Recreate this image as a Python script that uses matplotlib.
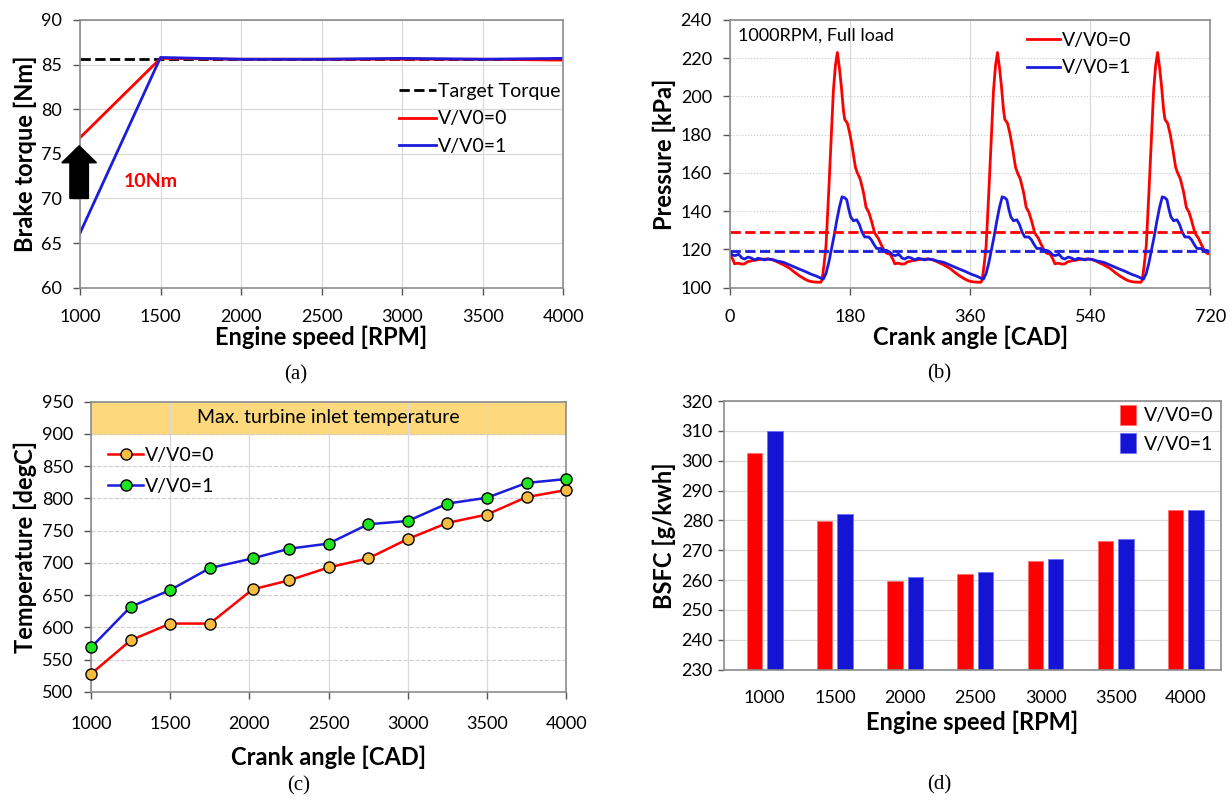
import matplotlib
matplotlib.use("Agg")
import matplotlib.pyplot as plt
from matplotlib.patches import FancyArrow

plt.rcParams['font.family'] = ['Lato', 'DejaVu Sans']

# ---- (a) brake torque ----
speed_a = [1000, 1500, 2000, 2500, 3000, 3500, 4000]
target_torque = [85.6, 85.6, 85.6, 85.6, 85.6, 85.6, 85.6]
torque_v0 = [76.8, 85.7, 85.6, 85.6, 85.6, 85.6, 85.5]
torque_v1 = [66.1, 85.8, 85.6, 85.6, 85.7, 85.6, 85.7]

# ---- (b) exhaust pressure, one 240 CAD firing cycle (repeats 3 times) ----
cad_cycle_v0 = [0, 4, 7, 12, 18, 22, 26, 32, 37, 45, 57, 65, 72, 80, 90, 97, 105,
                112, 118, 125, 136, 138, 141, 144, 148, 152, 155, 158, 161, 164,
                167, 170, 172, 176, 180, 184, 188, 191, 195, 200, 204, 208, 212,
                217, 222, 226, 231, 235]
p_cycle_v0 = [117.5, 115, 112.5, 112.8, 112.3, 112.5, 113.5, 114, 114.3, 114.8,
              115, 114.5, 113.3, 112, 110, 108, 106, 104.5, 103.5, 103, 102.8,
              104, 112, 122, 150, 180, 203, 216, 223, 215, 205, 193, 188, 186,
              180, 172, 163, 160, 157, 150, 142, 139.5, 135, 128.5, 126, 123,
              119.5, 118]
cad_cycle_v1 = [0, 4, 8, 13, 18, 22, 27, 32, 37, 42, 47, 52, 57, 62, 70, 80, 92,
                102, 112, 122, 130, 136, 140, 144, 148, 152, 156, 160, 164, 168,
                172, 175, 178, 181, 185, 190, 194, 198, 202, 208, 212, 216, 220,
                226, 230, 235]
p_cycle_v1 = [118.5, 117, 116.8, 117.5, 115.5, 115, 116, 115.5, 114.5, 115.4,
              115, 114.5, 115, 114.8, 114, 113.3, 111.5, 110, 108.6, 107, 106,
              105, 104.5, 107.5, 113, 120, 127, 135, 142, 147.5, 147, 146, 141,
              137, 135, 135.5, 133, 129, 126.5, 126.5, 125, 122.5, 120.5, 120.5,
              119.5, 119.5]
mean_p_v0 = 129
mean_p_v1 = 119

cad_v0 = [c + 240 * k for k in range(3) for c in cad_cycle_v0] + [720]
pres_v0 = p_cycle_v0 * 3 + [117.5]
cad_v1 = [c + 240 * k for k in range(3) for c in cad_cycle_v1] + [720]
pres_v1 = p_cycle_v1 * 3 + [118.5]

# ---- (c) turbine inlet temperature ----
speed_c = [1000, 1250, 1500, 1750, 2020, 2250, 2500, 2750, 3000, 3250, 3500, 3750, 4000]
temp_v0 = [528, 580, 606, 606, 659, 673, 693, 707, 737, 762, 775, 802, 813]
temp_v1 = [569, 632, 658, 692, 707, 722, 730, 760, 765, 792, 801, 824, 830]

# ---- (d) BSFC ----
speed_d = ['1000', '1500', '2000', '2500', '3000', '3500', '4000']
bsfc_v0 = [302.6, 279.7, 259.7, 261.9, 266.4, 273.2, 283.5]
bsfc_v1 = [310.1, 282.1, 261.1, 262.6, 266.9, 273.8, 283.3]

RED = '#ff0000'
BLUE = '#1c1cdc'
GRID = '#d9d9d9'
SPINE = '#8c8c8c'
LABEL = dict(fontsize=17, fontweight='bold')


def style(ax):
    for s in ax.spines.values():
        s.set_color(SPINE)
        s.set_linewidth(1.2)
    ax.tick_params(labelsize=13, color='#555555', length=5, width=1)
    ax.tick_params(axis='y', pad=8)
    ax.set_axisbelow(True)


fig = plt.figure(figsize=(12.32, 8.02), dpi=100)

# (a)
ax = fig.add_axes([0.0649, 0.6413, 0.3923, 0.3338])
style(ax)
ax.tick_params(axis='x', pad=10)
ax.plot(speed_a, target_torque, '--', color='black', lw=2, label='Target Torque')
ax.plot(speed_a, torque_v0, color=RED, lw=2, label='V/V0=0')
ax.plot(speed_a, torque_v1, color=BLUE, lw=2, label='V/V0=1')
ax.set_xlim(1000, 4000)
ax.set_ylim(60, 90)
ax.set_xticks(speed_a)
ax.set_yticks(range(60, 91, 5))
ax.grid(True, color=GRID, lw=0.9)
ax.add_patch(FancyArrow(995, 70, 0, 5.9, width=115, head_width=215, head_length=1.9,
                        length_includes_head=True, color='black', clip_on=False, zorder=5))
ax.text(1440, 71.9, '10Nm', color=RED, fontsize=14, fontweight='bold', ha='center', va='center')
ax.legend(loc='upper right', bbox_to_anchor=(1.01, 0.795), frameon=False, fontsize=14,
          handlelength=1.9, handletextpad=0.1, labelspacing=0.55, borderaxespad=0)
ax.set_xlabel('Engine speed [RPM]', labelpad=1, **LABEL)
ax.set_ylabel('Brake torque [Nm]', labelpad=3, **LABEL)
fig.text(296 / 1232, 1 - 375 / 802, '(a)', family='Liberation Serif', fontsize=15,
         ha='center', va='center')

# (b)
ax = fig.add_axes([0.5925, 0.6413, 0.3899, 0.3338])
style(ax)
ax.tick_params(axis='x', pad=10)
ax.plot(cad_v0, pres_v0, color=RED, lw=2, label='V/V0=0')
ax.plot(cad_v1, pres_v1, color=BLUE, lw=2, label='V/V0=1')
ax.axhline(mean_p_v0, color=RED, ls='--', lw=2)
ax.axhline(mean_p_v1, color=BLUE, ls='--', lw=2)
ax.set_xlim(0, 720)
ax.set_ylim(100, 240)
ax.set_xticks([0, 180, 360, 540, 720])
ax.set_yticks(range(100, 241, 20))
ax.grid(True, axis='x', color=GRID, lw=0.9)
ax.grid(True, axis='y', color='#c8c8c8', lw=0.8, ls=':')
ax.text(0.016, 0.94, '1000RPM, Full load', transform=ax.transAxes, fontsize=13,
        ha='left', va='center')
ax.legend(loc='upper right', bbox_to_anchor=(0.86, 1.0), frameon=False, fontsize=14,
          handlelength=1.7, handletextpad=0.1, labelspacing=0.55, borderaxespad=0.2)
ax.set_xlabel('Crank angle [CAD]', labelpad=1, **LABEL)
ax.set_ylabel('Pressure [kPa]', labelpad=3, **LABEL)
fig.text(939 / 1232, 1 - 374 / 802, '(b)', family='Liberation Serif', fontsize=15,
         ha='center', va='center')

# (c)
ax = fig.add_axes([0.0739, 0.1372, 0.3856, 0.3620])
style(ax)
ax.tick_params(axis='x', pad=12)
ax.axhspan(900, 950, color='#fdd97c', zorder=0)
ax.text(2500, 925, 'Max. turbine inlet temperature', fontsize=14, ha='center', va='center')
ax.plot(speed_c, temp_v0, '-o', color=RED, lw=1.8, ms=8, mfc='#fbbd3f', mec='black',
        mew=1, label='V/V0=0', clip_on=False, zorder=4)
ax.plot(speed_c, temp_v1, '-o', color=BLUE, lw=1.8, ms=8, mfc='#1ee61e', mec='black',
        mew=1, label='V/V0=1', clip_on=False, zorder=4)
ax.set_xlim(1000, 4000)
ax.set_ylim(500, 950)
ax.set_xticks(range(1000, 4001, 500))
ax.set_yticks(range(500, 951, 50))
ax.grid(True, axis='x', color=GRID, lw=0.9)
ax.grid(True, axis='y', color='#cfcfcf', lw=0.8, ls='--')
ax.legend(loc='upper left', bbox_to_anchor=(0.02, 0.87), frameon=False, fontsize=14,
          handlelength=1.8, handletextpad=0.1, labelspacing=0.7, borderaxespad=0)
ax.set_xlabel('Crank angle [CAD]', labelpad=10, **LABEL)
ax.set_ylabel('Temperature [degC]', labelpad=3, **LABEL)
fig.text(299 / 1232, 1 - 786 / 802, '(c)', family='Liberation Serif', fontsize=15,
         ha='center', va='center')

# (d)
ax = fig.add_axes([0.5877, 0.1652, 0.4034, 0.3348])
style(ax)
pos = range(len(speed_d))
ax.bar([p - 0.145 for p in pos], bsfc_v0, width=0.22, color=RED, edgecolor='#ff7070',
       lw=0.6, label='V/V0=0')
ax.bar([p + 0.145 for p in pos], bsfc_v1, width=0.22, color='#1414d4', edgecolor='#7070ff',
       lw=0.6, label='V/V0=1')
ax.set_xlim(-0.58, 6.5)
ax.set_ylim(230, 320)
ax.set_xticks(list(pos))
ax.set_xticklabels(speed_d)
ax.set_yticks(range(230, 321, 10))
ax.tick_params(axis='x', length=0, pad=15)
ax.tick_params(axis='y', length=4, pad=4)
ax.grid(True, axis='y', color=GRID, lw=0.9)
ax.legend(loc='upper right', bbox_to_anchor=(1.0, 1.015), frameon=False, fontsize=14,
          handlelength=0.8, handleheight=1.2, handletextpad=0.4, labelspacing=0.45,
          borderaxespad=0)
ax.set_xlabel('Engine speed [RPM]', labelpad=3, **LABEL)
ax.set_ylabel('BSFC [g/kwh]', labelpad=4, **LABEL)
fig.text(939 / 1232, 1 - 785 / 802, '(d)', family='Liberation Serif', fontsize=15,
         ha='center', va='center')

fig.savefig('out.png', dpi=100)
